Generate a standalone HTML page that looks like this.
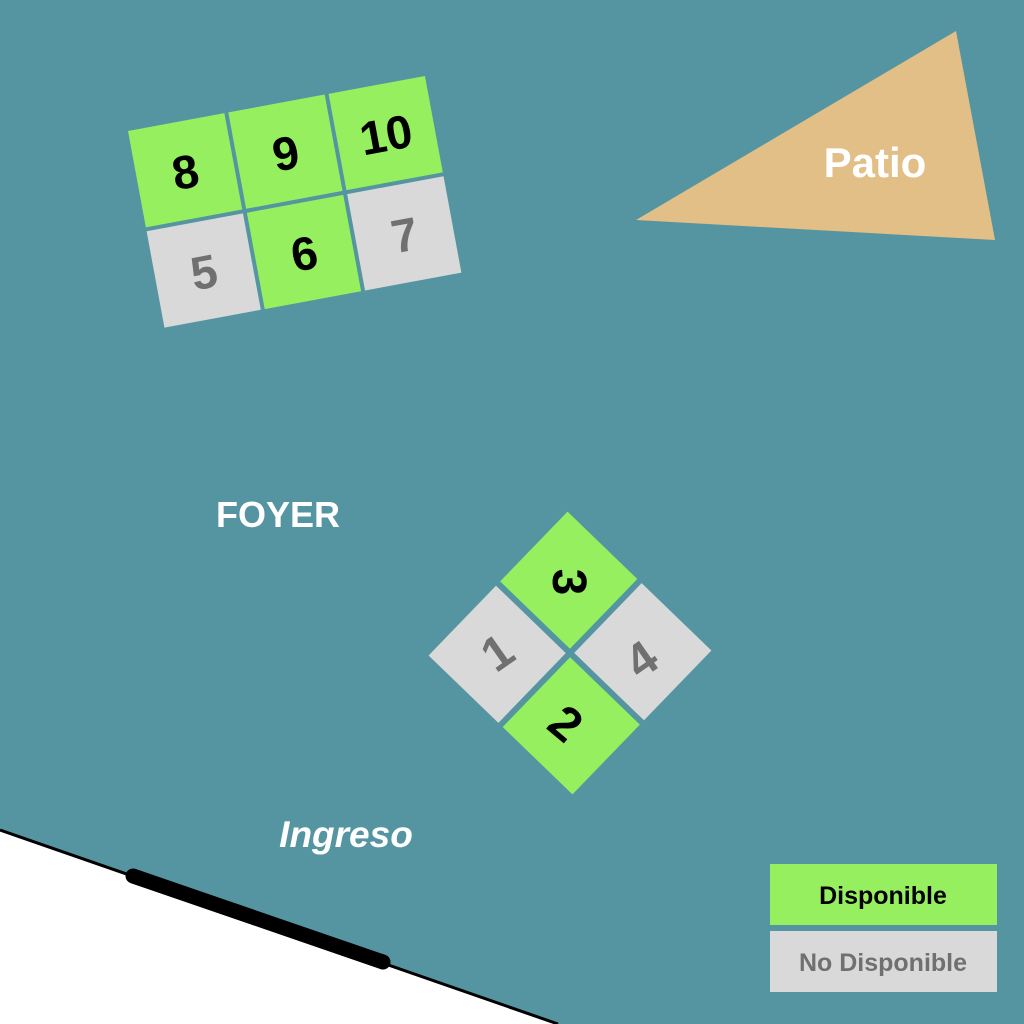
<!DOCTYPE html>
<html><head><meta charset="utf-8"><style>
html,body{margin:0;padding:0;background:#5595a1;}
svg{display:block;}
text{font-family:"Liberation Sans","DejaVu Sans",sans-serif;font-weight:bold;}
</style></head><body>
<svg width="1024" height="1024" viewBox="0 0 1024 1024" xmlns="http://www.w3.org/2000/svg">
<rect width="1024" height="1024" fill="#5595a1"/>
<polygon points="0,830 558,1024 0,1024" fill="#ffffff"/>
<line x1="0" y1="830" x2="558" y2="1024" stroke="#000" stroke-width="3"/>
<line x1="133" y1="876" x2="383" y2="962" stroke="#000" stroke-width="15" stroke-linecap="round"/>

<polygon points="636,220 956,31 995,240" fill="#e2bf87"/>
<text x="875" y="177" font-size="42" fill="#fff" text-anchor="middle">Patio</text>

<g transform="translate(128,131) rotate(-10.5)">
  <rect x="0" y="0" width="98" height="98" fill="#96ef5f"/>
  <rect x="102" y="0" width="98" height="98" fill="#96ef5f"/>
  <rect x="204" y="0" width="98" height="98" fill="#96ef5f"/>
  <rect x="0" y="102" width="98" height="98" fill="#d9d9d9"/>
  <rect x="102" y="102" width="98" height="98" fill="#96ef5f"/>
  <rect x="204" y="102" width="98" height="98" fill="#d9d9d9"/>
  <g font-size="47" text-anchor="middle">
    <text x="49" y="67" fill="#000">8</text>
    <text x="151" y="67" fill="#000">9</text>
    <text x="253" y="67" fill="#000">10</text>
    <text x="49" y="169" fill="#707070">5</text>
    <text x="151" y="169" fill="#000">6</text>
    <text x="253" y="169" fill="#707070">7</text>
  </g>
</g>

<g transform="translate(570,653) rotate(44)">
  <rect x="-100" y="-100" width="97" height="97" fill="#96ef5f"/>
  <rect x="3" y="-100" width="97" height="97" fill="#d9d9d9"/>
  <rect x="-100" y="3" width="97" height="97" fill="#d9d9d9"/>
  <rect x="3" y="3" width="97" height="97" fill="#96ef5f"/>
</g>
<g font-size="48" text-anchor="middle">
  <text transform="translate(570,582) rotate(90)" y="17" fill="#000">3</text>
  <text transform="translate(566,723) rotate(40)" y="17" fill="#000">2</text>
  <text transform="translate(497,652) rotate(-35)" y="17" fill="#707070">1</text>
  <text transform="translate(641,659) rotate(-35)" y="17" fill="#707070">4</text>
</g>

<text x="278" y="527" font-size="36" fill="#fff" text-anchor="middle">FOYER</text>
<text x="346" y="847" font-size="37" fill="#fff" text-anchor="middle" font-style="italic">Ingreso</text>

<rect x="770" y="864" width="227" height="61" fill="#96ef5f"/>
<rect x="770" y="931" width="227" height="61" fill="#d9d9d9"/>
<text x="883" y="904" font-size="25" fill="#000" text-anchor="middle">Disponible</text>
<text x="883" y="971" font-size="25" fill="#707070" text-anchor="middle">No Disponible</text>
</svg>
</body></html>
